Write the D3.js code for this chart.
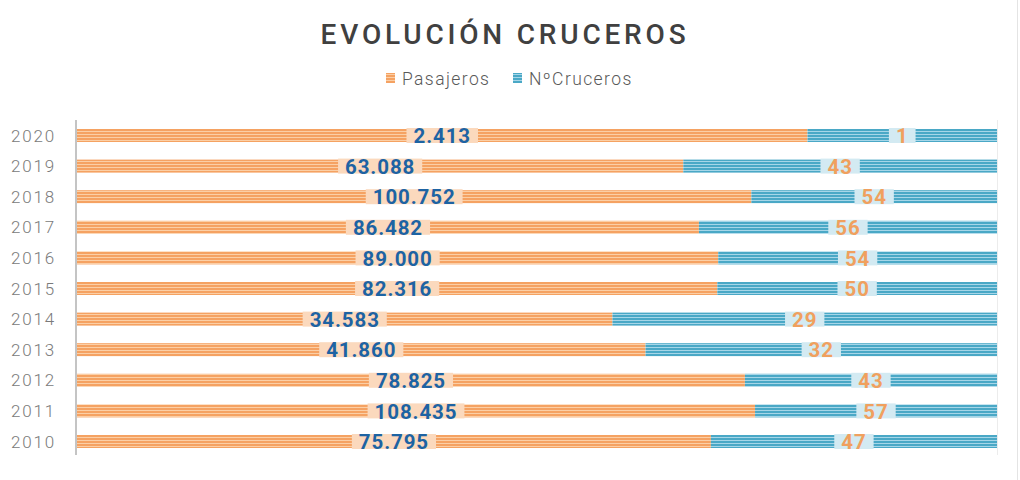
<!DOCTYPE html>
<html>
<head>
<meta charset="utf-8">
<script src="https://cdn.jsdelivr.net/npm/d3@7"></script>
<style>
html,body{margin:0;padding:0;background:#fff;}
svg{display:block;}
</style>
</head>
<body>
<svg id="chart" width="1020" height="480"></svg>
<script>
// ---- data ----
const years = ["2020","2019","2018","2017","2016","2015","2014","2013","2012","2011","2010"];
const pasajeros = [2413, 63088, 100752, 86482, 89000, 82316, 34583, 41860, 78825, 108435, 75795];
const cruceros = [1, 43, 54, 56, 54, 50, 29, 32, 43, 57, 47];
// share of each bar (percent)
const pasajerosShare = [79.4, 65.9, 73.3, 67.6, 69.7, 69.6, 58.2, 61.8, 72.6, 73.7, 68.9];
const crucerosShare  = [20.6, 34.1, 26.7, 32.4, 30.3, 30.4, 41.8, 38.2, 27.4, 26.3, 31.1];
const seriesNames = ["Pasajeros", "NºCruceros"];

const svg = d3.select("#chart");
const defs = svg.append("defs");
function stripe(id, dark, light){
  const p = defs.append("pattern").attr("id", id).attr("patternUnits","userSpaceOnUse")
    .attr("width", 8).attr("height", 3);
  p.append("rect").attr("width",8).attr("height",3).attr("fill", dark);
  p.append("rect").attr("y",2).attr("width",8).attr("height",1).attr("fill", light);
}
stripe("pOrange", "#f5a262", "#fbcfa6");
stripe("pBlue", "#4aa8c6", "#a6d6e8");

// frame
svg.append("line").attr("x1",1017.5).attr("x2",1017.5).attr("y1",0).attr("y2",480)
  .attr("stroke","#e4e4e4").attr("stroke-width",1);

// title
svg.append("text").attr("x", 505).attr("y", 44).attr("text-anchor","middle")
  .attr("font-family","Roboto, 'DejaVu Sans', sans-serif").attr("font-weight",500)
  .attr("font-size",28).attr("letter-spacing",3.8).attr("fill","#404040")
  .text("EVOLUCIÓN CRUCEROS");

// legend
const legend = svg.append("g").attr("font-family","Roboto, sans-serif").attr("font-weight",300)
  .attr("font-size",17.5).attr("fill","#595959");
const legendItems = [{x:386, fill:"url(#pOrange)", name:seriesNames[0]},{x:513, fill:"url(#pBlue)", name:seriesNames[1]}];
legendItems.forEach(d=>{
  legend.append("rect").attr("x",d.x).attr("y",73).attr("width",9).attr("height",10).attr("fill",d.fill);
  legend.append("text").attr("x",d.x+16).attr("y",85).attr("letter-spacing",1.4).text(d.name);
});

// scales
const x = d3.scaleLinear().domain([0,100]).range([77, 997]);
const y = d3.scaleBand().domain(years).range([120.2, 456.8]).paddingInner(0.575).paddingOuter(0.2875);

// gridline right
svg.append("line").attr("x1",997.5).attr("x2",997.5).attr("y1",120).attr("y2",455)
  .attr("stroke","#ececec");

const rows = years.map((yr,i)=>({yr, p:pasajeros[i], c:cruceros[i], ps:pasajerosShare[i], cs:crucerosShare[i]}));

const g = svg.append("g");
g.selectAll("rect.po").data(rows).join("rect").attr("class","po")
  .attr("x", x(0)).attr("y", d=>y(d.yr)).attr("width", d=>x(d.ps)-x(0)).attr("height", y.bandwidth())
  .attr("fill","url(#pOrange)");
g.selectAll("rect.bl").data(rows).join("rect").attr("class","bl")
  .attr("x", d=>x(d.ps)).attr("y", d=>y(d.yr)).attr("width", d=>x(d.ps+d.cs)-x(d.ps)).attr("height", y.bandwidth())
  .attr("fill","url(#pBlue)");

// y axis
const yAxis = d3.axisLeft(y).tickSize(0).tickPadding(20);
const ax = svg.append("g").attr("transform","translate(76,0)").call(yAxis);
ax.select(".domain").attr("stroke","#c4c4c4").attr("stroke-width",2).attr("d","M0,120V455");
ax.selectAll("text").attr("font-family","Roboto, sans-serif").attr("font-weight",300)
  .attr("font-size",17).attr("fill","#7a7a7a").attr("letter-spacing",1.8).attr("dy","0.36em");

const fmt = d3.formatLocale({decimal:",", thousands:".", grouping:[3]}).format(",d");

function labels(cls, getText, getCenter, bg, color){
  const lg = svg.append("g").selectAll("g."+cls).data(rows).join("g").attr("class",cls);
  lg.each(function(d){
    const gg = d3.select(this);
    const cx = getCenter(d), cy = y(d.yr) + y.bandwidth()/2;
    const t = gg.append("text").attr("x",cx).attr("y",cy).attr("dy","0.38em").attr("text-anchor","middle")
      .attr("font-family","Roboto, sans-serif").attr("font-weight",700).attr("font-size",20.5)
      .attr("letter-spacing",0.9).attr("fill",color).text(getText(d));
    const w = t.node().getComputedTextLength();
    gg.insert("rect","text").attr("x",cx-w/2-7).attr("y",y(d.yr)-1).attr("width",w+14)
      .attr("height",y.bandwidth()+2).attr("fill",bg);
  });
}
labels("lp", d=>fmt(d.p), d=>(x(0)+x(d.ps))/2, "#fbd9bd", "#1d63a3");
labels("lc", d=>fmt(d.c), d=>(x(d.ps)+x(d.ps+d.cs))/2, "#d3eaf2", "#f0a05e");
</script>
</body>
</html>
